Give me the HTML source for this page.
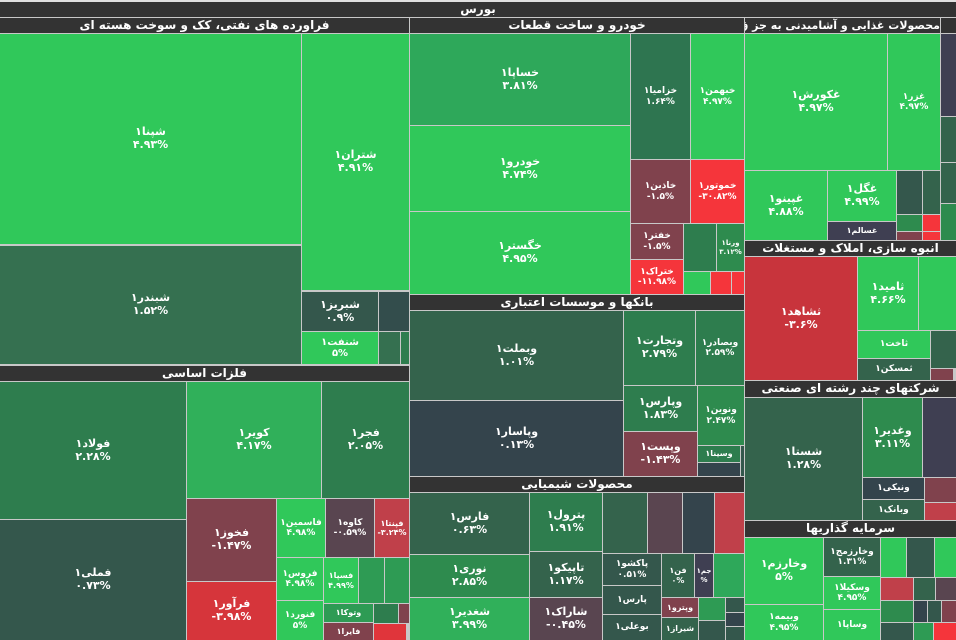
<!DOCTYPE html>
<html><head><meta charset="utf-8">
<style>
body{margin:0;width:956px;height:640px;overflow:hidden;background:#c8c8c8;position:relative;font-family:"DejaVu Sans","Liberation Sans",sans-serif}
.c{position:absolute;display:flex;align-items:center;justify-content:center;flex-direction:column;color:#fff;font-weight:bold;font-size:11px;text-align:center;line-height:1.15;overflow:hidden;white-space:nowrap}
.h{position:absolute;background:#333;color:#fff;font-size:12px;font-weight:bold;text-align:center;line-height:15px;overflow:hidden;white-space:nowrap}
</style></head><body>
<div style="position:absolute;left:0;top:0;width:956px;height:2px;background:#e0e0e0"></div>
<div class="h" style="left:0;top:2px;width:956px;height:15px">بورس</div>

<div class="h" style="left:0;top:18px;width:409px;height:15px">فراورده های نفتی، کک و سوخت هسته ای</div>
<div class="c" style="left:0;top:34px;width:301px;height:210px;background:#30c85a">شپنا۱<br>۴.۹۳%</div>
<div class="c" style="left:0;top:246px;width:301px;height:118px;background:#357050">شبندر۱<br>۱.۵۲%</div>
<div class="c" style="left:302px;top:34px;width:107px;height:256px;background:#30c85a">شتران۱<br>۴.۹۱%</div>
<div class="c" style="left:302px;top:292px;width:76px;height:39px;background:#34574c">شبریز۱<br>۰.۹%</div>
<div class="c" style="left:379px;top:292px;width:30px;height:39px;background:#334d4c"></div>
<div class="c" style="left:302px;top:332px;width:76px;height:32px;background:#30c85a;font-size:10px">شنفت۱<br>۵%</div>
<div class="c" style="left:379px;top:332px;width:21px;height:32px;background:#357050"></div>
<div class="c" style="left:401px;top:332px;width:8px;height:32px;background:#2e7d4e"></div>

<div class="h" style="left:0;top:366px;width:409px;height:15px">فلزات اساسی</div>
<div class="c" style="left:0;top:382px;width:186px;height:137px;background:#2e7d4e">فولاد۱<br>۲.۲۸%</div>
<div class="c" style="left:0;top:520px;width:186px;height:120px;background:#34574c">فملی۱<br>۰.۷۳%</div>
<div class="c" style="left:187px;top:382px;width:134px;height:116px;background:#30b05a">کویر۱<br>۴.۱۷%</div>
<div class="c" style="left:322px;top:382px;width:87px;height:116px;background:#2e7d4e">فجر۱<br>۲.۰۵%</div>
<div class="c" style="left:187px;top:499px;width:89px;height:82px;background:#80424d">فخوز۱<br>-۱.۴۷%</div>
<div class="c" style="left:187px;top:582px;width:89px;height:58px;background:#d6353b">فرآور۱<br>-۳.۹۸%</div>
<div class="c" style="left:277px;top:499px;width:48px;height:58px;background:#30c85a;font-size:9px">فاسمین۱<br>۴.۹۸%</div>
<div class="c" style="left:326px;top:499px;width:48px;height:58px;background:#594550;font-size:9px">کاوه۱<br>-۰.۵۹%</div>
<div class="c" style="left:375px;top:499px;width:34px;height:58px;background:#c0404a;font-size:8px">فپنتا۱<br>-۳.۲۴%</div>
<div class="c" style="left:277px;top:558px;width:46px;height:42px;background:#30c85a;font-size:9px">فروس۱<br>۴.۹۸%</div>
<div class="c" style="left:277px;top:601px;width:46px;height:39px;background:#30c85a;font-size:9px">فنورد۱<br>۵%</div>
<div class="c" style="left:324px;top:558px;width:34px;height:45px;background:#30c85a;font-size:8px">فسپا۱<br>۴.۹۹%</div>
<div class="c" style="left:359px;top:558px;width:25px;height:45px;background:#2e9b54"></div>
<div class="c" style="left:385px;top:558px;width:24px;height:45px;background:#2e9b54"></div>
<div class="c" style="left:324px;top:604px;width:49px;height:18px;background:#2e9b54;font-size:8px">وتوکا۱</div>
<div class="c" style="left:324px;top:623px;width:49px;height:17px;background:#80424d;font-size:8px">فایرا۱</div>
<div class="c" style="left:374px;top:604px;width:24px;height:19px;background:#2e7d4e"></div>
<div class="c" style="left:399px;top:604px;width:10px;height:19px;background:#80424d"></div>
<div class="c" style="left:374px;top:624px;width:32px;height:16px;background:#e0353b"></div>

<div class="h" style="left:410px;top:18px;width:334px;height:15px">خودرو و ساخت قطعات</div>
<div class="c" style="left:410px;top:34px;width:220px;height:91px;background:#2ea85a">خساپا۱<br>۳.۸۱%</div>
<div class="c" style="left:410px;top:126px;width:220px;height:85px;background:#30c85a">خودرو۱<br>۴.۷۴%</div>
<div class="c" style="left:410px;top:212px;width:220px;height:82px;background:#30c85a">خگستر۱<br>۴.۹۵%</div>
<div class="c" style="left:631px;top:34px;width:59px;height:125px;background:#2e7550;font-size:9px">خزامیا۱<br>۱.۶۴%</div>
<div class="c" style="left:691px;top:34px;width:53px;height:125px;background:#30c85a;font-size:9px">خبهمن۱<br>۴.۹۷%</div>
<div class="c" style="left:631px;top:160px;width:59px;height:63px;background:#80424d;font-size:9px">خاذین۱<br>-۱.۵%</div>
<div class="c" style="left:691px;top:160px;width:53px;height:63px;background:#f5353b;font-size:9px">خموتور۱<br>-۳۰.۸۲%</div>
<div class="c" style="left:631px;top:224px;width:52px;height:35px;background:#80424d;font-size:9px">خفتر۱<br>-۱.۵%</div>
<div class="c" style="left:631px;top:260px;width:52px;height:34px;background:#f5353b;font-size:9px">ختراک۱<br>-۱۱.۹۸%</div>
<div class="c" style="left:684px;top:224px;width:32px;height:47px;background:#2e7d4e"></div>
<div class="c" style="left:717px;top:224px;width:27px;height:47px;background:#2e8b4e;font-size:7px">ورنا۱<br>۳.۱۲%</div>
<div class="c" style="left:684px;top:272px;width:26px;height:22px;background:#30c85a"></div>
<div class="c" style="left:711px;top:272px;width:20px;height:22px;background:#f5353b"></div>
<div class="c" style="left:732px;top:272px;width:12px;height:22px;background:#f5353b"></div>

<div class="h" style="left:410px;top:295px;width:334px;height:15px">بانکها و موسسات اعتباری</div>
<div class="c" style="left:410px;top:311px;width:213px;height:89px;background:#34634c">وبملت۱<br>۱.۰۱%</div>
<div class="c" style="left:410px;top:401px;width:213px;height:75px;background:#34444c">وپاسار۱<br>۰.۱۳%</div>
<div class="c" style="left:624px;top:311px;width:71px;height:74px;background:#2e7d4e">وتجارت۱<br>۲.۷۹%</div>
<div class="c" style="left:696px;top:311px;width:48px;height:74px;background:#2e7d4e;font-size:9px">وبصادر۱<br>۲.۵۹%</div>
<div class="c" style="left:624px;top:386px;width:73px;height:45px;background:#2e7d4e">وپارس۱<br>۱.۸۳%</div>
<div class="c" style="left:624px;top:432px;width:73px;height:44px;background:#80424d">وپست۱<br>-۱.۴۳%</div>
<div class="c" style="left:698px;top:386px;width:46px;height:59px;background:#2e8b4e;font-size:9px">ونوین۱<br>۲.۴۷%</div>
<div class="c" style="left:698px;top:446px;width:42px;height:16px;background:#2e7d4e;font-size:8px">وسینا۱</div>
<div class="c" style="left:698px;top:463px;width:42px;height:13px;background:#34444c"></div>
<div class="c" style="left:741px;top:446px;width:3px;height:30px;background:#34574c"></div>

<div class="h" style="left:410px;top:477px;width:334px;height:15px">محصولات شیمیایی</div>
<div class="c" style="left:410px;top:493px;width:119px;height:61px;background:#34634c">فارس۱<br>۰.۶۳%</div>
<div class="c" style="left:410px;top:555px;width:119px;height:42px;background:#2e8b4e">نوری۱<br>۲.۸۵%</div>
<div class="c" style="left:410px;top:598px;width:119px;height:42px;background:#30b05a">شغدیر۱<br>۳.۹۹%</div>
<div class="c" style="left:530px;top:493px;width:72px;height:58px;background:#2e7d4e">پترول۱<br>۱.۹۱%</div>
<div class="c" style="left:530px;top:552px;width:72px;height:45px;background:#34634c">تاپیکو۱<br>۱.۱۷%</div>
<div class="c" style="left:530px;top:598px;width:72px;height:42px;background:#594550">شاراک۱<br>-۰.۴۵%</div>
<div class="c" style="left:603px;top:493px;width:44px;height:60px;background:#34634c"></div>
<div class="c" style="left:648px;top:493px;width:34px;height:60px;background:#5a4550"></div>
<div class="c" style="left:683px;top:493px;width:31px;height:60px;background:#34444c"></div>
<div class="c" style="left:715px;top:493px;width:29px;height:60px;background:#c0404a"></div>
<div class="c" style="left:603px;top:554px;width:58px;height:31px;background:#34574c;font-size:9px">پاکشو۱<br>۰.۵۱%</div>
<div class="c" style="left:603px;top:586px;width:58px;height:28px;background:#34574c;font-size:9px">پارس۱</div>
<div class="c" style="left:603px;top:615px;width:58px;height:25px;background:#34574c;font-size:9px">بوعلی۱</div>
<div class="c" style="left:662px;top:554px;width:32px;height:43px;background:#34634c;font-size:8px">فن۱<br>۰%</div>
<div class="c" style="left:695px;top:554px;width:18px;height:43px;background:#3f3f52;font-size:7px">جم۱<br>%</div>
<div class="c" style="left:714px;top:554px;width:30px;height:43px;background:#2ea85a"></div>
<div class="c" style="left:662px;top:598px;width:36px;height:19px;background:#80424d;font-size:8px">وپترو۱</div>
<div class="c" style="left:662px;top:618px;width:36px;height:22px;background:#34634c;font-size:8px">شیراز۱</div>
<div class="c" style="left:699px;top:598px;width:26px;height:22px;background:#2e9b54"></div>
<div class="c" style="left:699px;top:621px;width:26px;height:19px;background:#34574c"></div>
<div class="c" style="left:726px;top:598px;width:18px;height:14px;background:#34574c"></div>
<div class="c" style="left:726px;top:613px;width:18px;height:13px;background:#34444c"></div>
<div class="c" style="left:726px;top:627px;width:18px;height:13px;background:#34574c"></div>

<div class="h" style="left:745px;top:18px;width:195px;height:15px;font-size:11px;direction:rtl;text-align:right;text-overflow:clip">محصولات غذایی و آشامیدنی به جز ق</div>
<div class="h" style="left:941px;top:18px;width:15px;height:15px"></div>
<div class="c" style="left:745px;top:34px;width:142px;height:136px;background:#30c85a">غکورش۱<br>۴.۹۷%</div>
<div class="c" style="left:888px;top:34px;width:52px;height:136px;background:#30c85a;font-size:9px">غزر۱<br>۴.۹۷%</div>
<div class="c" style="left:941px;top:34px;width:15px;height:82px;background:#3f3f52"></div>
<div class="c" style="left:941px;top:117px;width:15px;height:45px;background:#34634c"></div>
<div class="c" style="left:941px;top:163px;width:15px;height:40px;background:#34634c"></div>
<div class="c" style="left:941px;top:204px;width:15px;height:36px;background:#2e8b4e"></div>
<div class="c" style="left:745px;top:171px;width:82px;height:69px;background:#30c85a">غپینو۱<br>۴.۸۸%</div>
<div class="c" style="left:828px;top:171px;width:68px;height:50px;background:#30c85a">غگل۱<br>۴.۹۹%</div>
<div class="c" style="left:828px;top:222px;width:68px;height:18px;background:#3f3f52;font-size:8px">غسالم۱</div>
<div class="c" style="left:897px;top:171px;width:25px;height:43px;background:#34574c"></div>
<div class="c" style="left:923px;top:171px;width:17px;height:43px;background:#34634c"></div>
<div class="c" style="left:897px;top:215px;width:25px;height:16px;background:#2e8b4e"></div>
<div class="c" style="left:923px;top:215px;width:17px;height:16px;background:#f5353b"></div>
<div class="c" style="left:897px;top:232px;width:25px;height:8px;background:#80424d"></div>
<div class="c" style="left:923px;top:232px;width:17px;height:8px;background:#f5353b"></div>

<div class="h" style="left:745px;top:241px;width:211px;height:15px">انبوه سازی، املاک و مستغلات</div>
<div class="c" style="left:745px;top:257px;width:112px;height:123px;background:#c8343c">ثشاهد۱<br>-۳.۶%</div>
<div class="c" style="left:858px;top:257px;width:60px;height:73px;background:#30c85a">ثامید۱<br>۴.۶۶%</div>
<div class="c" style="left:919px;top:257px;width:37px;height:73px;background:#30c85a"></div>
<div class="c" style="left:858px;top:331px;width:72px;height:27px;background:#30c85a;font-size:9px">ثاخت۱</div>
<div class="c" style="left:858px;top:359px;width:72px;height:21px;background:#34634c;font-size:9px">ثمسکن۱</div>
<div class="c" style="left:931px;top:331px;width:25px;height:37px;background:#34634c"></div>
<div class="c" style="left:931px;top:369px;width:22px;height:11px;background:#80424d"></div>

<div class="h" style="left:745px;top:381px;width:211px;height:16px">شرکتهای چند رشته ای صنعتی</div>
<div class="c" style="left:745px;top:398px;width:117px;height:122px;background:#34634c">شستا۱<br>۱.۲۸%</div>
<div class="c" style="left:863px;top:398px;width:59px;height:79px;background:#2e8b4e">وغدیر۱<br>۳.۱۱%</div>
<div class="c" style="left:923px;top:398px;width:33px;height:79px;background:#3f3f52"></div>
<div class="c" style="left:863px;top:478px;width:61px;height:21px;background:#34444c;font-size:9px">ونیکی۱</div>
<div class="c" style="left:863px;top:500px;width:61px;height:20px;background:#34634c;font-size:9px">وبانک۱</div>
<div class="c" style="left:925px;top:478px;width:31px;height:24px;background:#80424d"></div>
<div class="c" style="left:925px;top:503px;width:31px;height:17px;background:#c0404a"></div>

<div class="h" style="left:745px;top:521px;width:211px;height:16px">سرمایه گذاریها</div>
<div class="c" style="left:745px;top:538px;width:78px;height:66px;background:#30c85a">وخارزم۱<br>۵%</div>
<div class="c" style="left:745px;top:605px;width:78px;height:35px;background:#30c85a;font-size:9px">وبیمه۱<br>۴.۹۵%</div>
<div class="c" style="left:824px;top:538px;width:56px;height:38px;background:#34634c;font-size:9px">وخارزمج۱<br>۱.۳۱%</div>
<div class="c" style="left:824px;top:577px;width:56px;height:32px;background:#30c85a;font-size:9px">وسکیلا۱<br>۴.۹۵%</div>
<div class="c" style="left:824px;top:610px;width:56px;height:30px;background:#30c85a;font-size:9px">وساپا۱</div>
<div class="c" style="left:881px;top:538px;width:25px;height:39px;background:#30c85a"></div>
<div class="c" style="left:907px;top:538px;width:27px;height:39px;background:#34574c"></div>
<div class="c" style="left:935px;top:538px;width:21px;height:39px;background:#30c85a"></div>
<div class="c" style="left:881px;top:578px;width:32px;height:22px;background:#c0404a"></div>
<div class="c" style="left:914px;top:578px;width:21px;height:22px;background:#34634c"></div>
<div class="c" style="left:936px;top:578px;width:20px;height:22px;background:#594550"></div>
<div class="c" style="left:881px;top:601px;width:32px;height:21px;background:#2e8b4e"></div>
<div class="c" style="left:881px;top:623px;width:32px;height:17px;background:#34574c"></div>
<div class="c" style="left:914px;top:601px;width:13px;height:21px;background:#34444c"></div>
<div class="c" style="left:928px;top:601px;width:13px;height:21px;background:#34574c"></div>
<div class="c" style="left:942px;top:601px;width:14px;height:21px;background:#80424d"></div>
<div class="c" style="left:914px;top:623px;width:19px;height:17px;background:#2e9b54"></div>
<div class="c" style="left:934px;top:623px;width:22px;height:17px;background:#f5353b"></div>
</body></html>
